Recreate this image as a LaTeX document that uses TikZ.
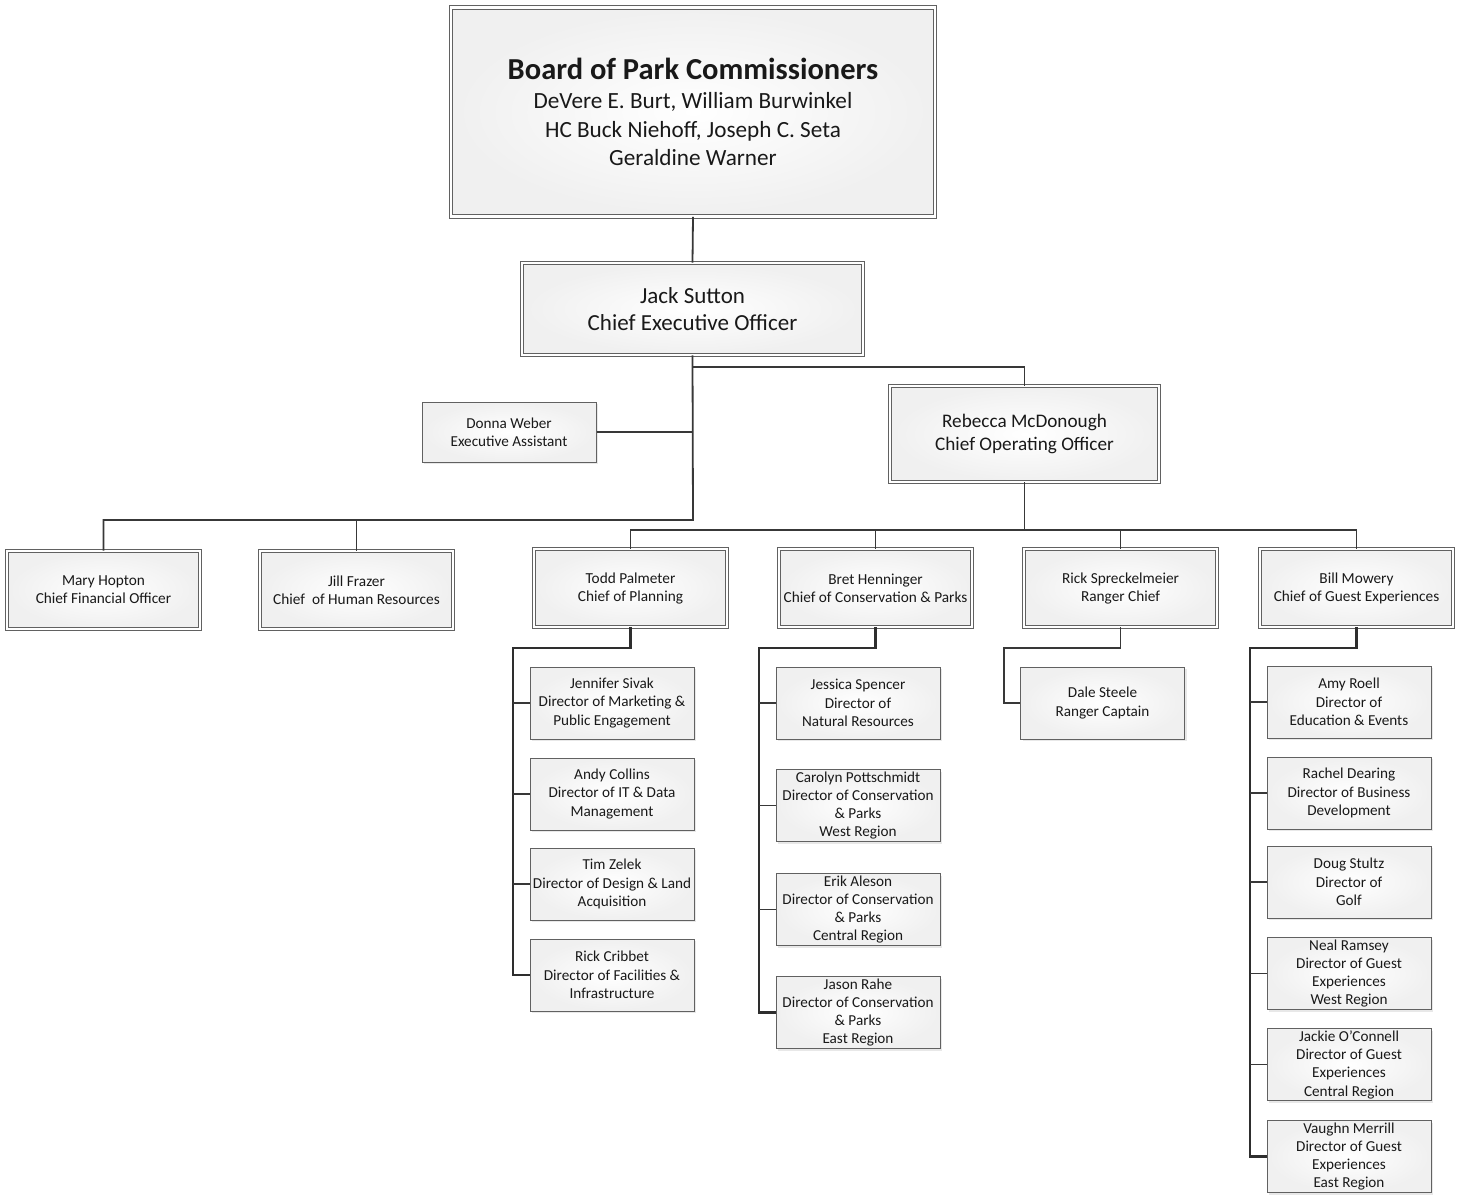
\documentclass[tikz,border=0pt]{standalone}
\usepackage{fontspec}
\setmainfont{Carlito}
\usetikzlibrary{shadows}

\begin{document}
\begin{tikzpicture}[
  x=1pt, y=-1pt,
  base_box/.style={rectangle, inner sep=0pt, align=center, text=black!90,
    shade, inner color=white, outer color=black!6,
    drop shadow={opacity=0.18, shadow xshift=2pt, shadow yshift=-2pt}},
  double_box/.style={base_box, draw=black!62, line width=0.9pt, double=white, double distance=2.6pt},
  board_box/.style={double_box, minimum width=484pt, minimum height=209pt, font=\fontsize{23.2}{28.5}\selectfont},
  ceo_box/.style={double_box, minimum width=341pt, minimum height=92pt, font=\fontsize{23}{27}\selectfont},
  coo_box/.style={double_box, minimum width=269pt, minimum height=96pt, font=\fontsize{19.2}{23}\selectfont},
  chief_box/.style={double_box, minimum width=193pt, minimum height=78pt, font=\fontsize{15.3}{18}\selectfont},
  staff_box/.style={base_box, draw=black!62, line width=1pt, minimum width=164pt, minimum height=72pt, font=\fontsize{15.2}{18.3}\selectfont},
  assist_box/.style={staff_box, minimum width=174pt, minimum height=60pt, font=\fontsize{15.2}{18}\selectfont},
  link/.style={draw=black!78, line width=1.8pt},
  rail/.style={draw=black!82, line width=2.6pt},
]
\useasboundingbox (0,0) rectangle (1457,1195);

% top of the tree
\draw (693,112) node (board) [board_box]
  {{\fontsize{30.5}{30}\selectfont\bfseries Board of Park Commissioners}\\[1pt]
   DeVere E. Burt, William Burwinkel\\
   HC Buck Niehoff, Joseph C. Seta\\
   Geraldine Warner};
\draw (692.5,309) node (ceo) [ceo_box] {Jack Sutton\\Chief Executive Officer};
\draw (509,432) node (donna) [assist_box] {Donna Weber\\Executive Assistant};
\draw (1024.5,434) node (coo) [coo_box] {Rebecca McDonough\\Chief Operating Officer};

% chiefs
\draw (103.5,590) node (mary) [chief_box] {Mary Hopton\\Chief Financial Officer};
\draw (356.5,590) node (jill) [chief_box] {Jill Frazer\\Chief~ of Human Resources};
\draw (630.5,588) node (todd) [chief_box] {Todd Palmeter\\Chief of Planning};
\draw (875.5,588) node (bret) [chief_box] {Bret Henninger\\Chief of Conservation \& Parks};
\draw (1120.5,588) node (ricks) [chief_box] {Rick Spreckelmeier\\Ranger Chief};
\draw (1356.5,588) node (bill) [chief_box] {Bill Mowery\\Chief of Guest Experiences};

% planning
\draw (612,703) node (jennifer) [staff_box] {Jennifer Sivak\\Director of Marketing \&\\Public Engagement};
\draw (612,794) node (andy) [staff_box] {Andy Collins\\Director of IT \& Data\\Management};
\draw (612,884) node (tim) [staff_box] {Tim Zelek\\Director of Design \& Land\\Acquisition};
\draw (612,975) node (rickc) [staff_box] {Rick Cribbet\\Director of Facilities \&\\Infrastructure};

% conservation
\draw (858,703) node (jessica) [staff_box] {Jessica Spencer\\Director of\\Natural Resources};
\draw (858,805.5) node (carolyn) [staff_box] {Carolyn Pottschmidt\\Director of Conservation\\\& Parks\\West Region};
\draw (858,909.5) node (erik) [staff_box] {Erik Aleson\\Director of Conservation\\\& Parks\\Central Region};
\draw (858,1012.5) node (jason) [staff_box] {Jason Rahe\\Director of Conservation\\\& Parks\\East Region};

% rangers
\draw (1102.5,703) node (dale) [staff_box] {Dale Steele\\Ranger Captain};

% guest experiences
\draw (1349,702) node (amy) [staff_box] {Amy Roell\\Director of\\Education \& Events};
\draw (1349,793) node (rachel) [staff_box] {Rachel Dearing\\Director of Business\\Development};
\draw (1349,882) node (doug) [staff_box] {Doug Stultz\\Director of\\Golf};
\draw (1349,973.5) node (neal) [staff_box] {Neal Ramsey\\Director of Guest\\Experiences\\West Region};
\draw (1349,1064.5) node (jackie) [staff_box] {Jackie O'Connell\\Director of Guest\\Experiences\\Central Region};
\draw (1349,1156.5) node (vaughn) [staff_box] {Vaughn Merrill\\Director of Guest\\Experiences\\East Region};

% connectors
\coordinate (left_bus) at (693,520);
\coordinate (coo_tap) at (693,367);
\coordinate (coo_bus) at (1024.5,530);
\draw[link] (board.south) -- (ceo.north);
\draw[link] (ceo.south) -- (left_bus) -| (mary.north);
\draw[link] (left_bus) -| (jill.north);
\draw[link] (donna.east) -- (donna.east -| left_bus);
\draw[link] (coo_tap) -| (coo.north);
\draw[link] (coo.south) -- (coo_bus);
\draw[link] (todd.north) |- (coo_bus) -| (bill.north);
\draw[link] (bret.north) -- (bret.north |- coo_bus);
\draw[link] (ricks.north) -- (ricks.north |- coo_bus);

% brackets under the chiefs
\coordinate (todd_rail) at (513,648);
\coordinate (bret_rail) at (759,648);
\coordinate (ricks_rail) at (1004,648);
\coordinate (bill_rail) at (1250,648);
\draw[rail] (todd.south) |- (todd_rail) -- (todd_rail |- rickc.west) -- (rickc.west);
\foreach \n in {jennifer,andy,tim}
  \draw[link] (\n.west) -- (\n.west -| todd_rail);
\draw[rail] (bret.south) |- (bret_rail) -- (bret_rail |- jason.west) -- (jason.west);
\foreach \n in {jessica,carolyn,erik}
  \draw[link] (\n.west) -- (\n.west -| bret_rail);
\draw[link] (ricks.south) |- (ricks_rail) |- (dale.west);
\draw[rail] (bill.south) |- (bill_rail) -- (bill_rail |- vaughn.west) -- (vaughn.west);
\foreach \n in {amy,rachel,doug,neal,jackie}
  \draw[link] (\n.west) -- (\n.west -| bill_rail);
\end{tikzpicture}
\end{document}
